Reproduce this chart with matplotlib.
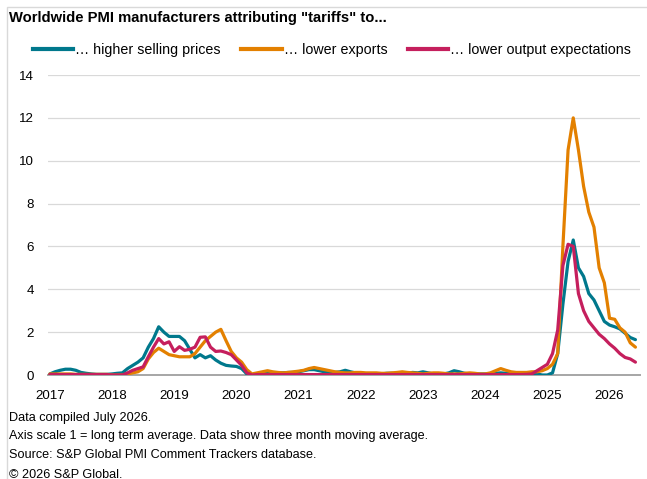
import matplotlib
matplotlib.use("Agg")
import matplotlib.pyplot as plt
import numpy as np
from matplotlib.lines import Line2D
from matplotlib.patches import Rectangle

plt.rcParams['font.family'] = ['Liberation Sans', 'DejaVu Sans']

years = ["2017", "2018", "2019", "2020", "2021", "2022", "2023", "2024", "2025", "2026"]
start_year = 2017

# Monthly values, Jan 2017 - Jun 2026 (three month moving average)
higher_selling_prices = (
    [0.05, 0.15, 0.22, 0.27, 0.27, 0.22, 0.12, 0.08, 0.05, 0.03, 0.03, 0.03] +
    [0.05, 0.08, 0.10, 0.30, 0.45, 0.60, 0.80, 1.30, 1.70, 2.25, 2.00, 1.80] +
    [1.80, 1.80, 1.60, 1.20, 0.80, 0.95, 0.80, 0.90, 0.70, 0.55, 0.45, 0.42] +
    [0.40, 0.30, 0.05, 0.00, 0.02, 0.05, 0.08, 0.10, 0.10, 0.10, 0.12, 0.12] +
    [0.15, 0.20, 0.25, 0.25, 0.20, 0.15, 0.12, 0.12, 0.15, 0.22, 0.15, 0.10] +
    [0.08, 0.05, 0.05, 0.05, 0.05, 0.08, 0.08, 0.05, 0.05, 0.08, 0.12, 0.10] +
    [0.15, 0.10, 0.05, 0.05, 0.05, 0.10, 0.20, 0.15, 0.08, 0.05, 0.05, 0.05] +
    [0.05, 0.05, 0.08, 0.10, 0.08, 0.05, 0.05, 0.05, 0.05, 0.05, 0.05, 0.00] +
    [0.00, 0.10, 1.00, 3.30, 5.30, 6.30, 5.00, 4.60, 3.80, 3.50, 3.00, 2.50] +
    [2.33, 2.25, 2.15, 1.95, 1.75, 1.65]
)

lower_exports = (
    [0.05, 0.05, 0.05, 0.05, 0.05, 0.03, 0.03, 0.03, 0.03, 0.03, 0.03, 0.03] +
    [0.00, 0.00, 0.00, 0.05, 0.10, 0.15, 0.30, 0.75, 1.05, 1.25, 1.10, 0.95] +
    [0.90, 0.85, 0.85, 0.85, 1.00, 1.30, 1.60, 1.80, 2.00, 2.13, 1.60, 1.10] +
    [0.80, 0.60, 0.25, 0.05, 0.10, 0.15, 0.20, 0.15, 0.12, 0.10, 0.12, 0.15] +
    [0.18, 0.22, 0.30, 0.35, 0.30, 0.25, 0.20, 0.15, 0.12, 0.10, 0.10, 0.12] +
    [0.12, 0.10, 0.10, 0.10, 0.08, 0.08, 0.10, 0.12, 0.15, 0.12, 0.10, 0.08] +
    [0.05, 0.08, 0.10, 0.10, 0.08, 0.05, 0.05, 0.05, 0.08, 0.10, 0.08, 0.05] +
    [0.05, 0.10, 0.20, 0.30, 0.22, 0.15, 0.12, 0.12, 0.12, 0.15, 0.15, 0.20] +
    [0.30, 0.50, 1.00, 6.00, 10.50, 12.00, 10.50, 8.80, 7.60, 6.90, 5.00, 4.30] +
    [2.65, 2.60, 2.20, 2.00, 1.50, 1.30]
)

lower_output_expectations = (
    [0.02] * 12 +
    [0.00, 0.00, 0.00, 0.10, 0.22, 0.30, 0.38, 0.85, 1.30, 1.70, 1.45, 1.55] +
    [1.10, 1.32, 1.15, 1.20, 1.30, 1.76, 1.78, 1.30, 1.10, 1.12, 1.05, 0.95] +
    [0.70, 0.45, 0.10, 0.00, 0.02, 0.02, 0.02, 0.02, 0.02, 0.02, 0.02, 0.02] +
    [0.02] * 12 +
    [0.02] * 12 +
    [0.02] * 12 +
    [0.02, 0.02, 0.02, 0.02, 0.02, 0.02, 0.02, 0.02, 0.03, 0.05, 0.20, 0.35] +
    [0.50, 1.00, 2.10, 5.10, 6.10, 6.00, 3.80, 3.00, 2.50, 2.20, 1.90, 1.70] +
    [1.45, 1.25, 1.00, 0.82, 0.75, 0.60]
)

series = [
    ("… higher selling prices", higher_selling_prices, "#00788C"),
    ("… lower exports", lower_exports, "#E38000"),
    ("… lower output expectations", lower_output_expectations, "#C51F5D"),
]

fig = plt.figure(figsize=(6.47, 4.79), dpi=100)
ax = fig.add_axes([48 / 647, 1 - 375 / 479, (640 - 48) / 647, (375 - 75) / 479])

for label, vals, color in series:
    t = start_year + np.arange(len(vals)) / 12.0
    ax.plot(t, vals, color=color, lw=2.3, label=label, solid_capstyle='round',
            solid_joinstyle='round', zorder=3)

ax.set_ylim(0, 14)
ax.set_xlim(2016.97, 2026.49)
ax.set_yticks(np.arange(0, 15, 2))
ax.set_xticks([int(y) for y in years])
ax.set_xticklabels(years)
ax.tick_params(axis='both', length=0, labelsize=9.6, colors='#000000')
ax.tick_params(axis='y', pad=10)
ax.tick_params(axis='x', pad=11)
ax.yaxis.grid(True, color='#D9D9D9', lw=0.9)
ax.set_axisbelow(True)
for s in ['top', 'right', 'left']:
    ax.spines[s].set_visible(False)
ax.spines['bottom'].set_color('#A6A6A6')
ax.spines['bottom'].set_linewidth(1.4)
ax.spines['bottom'].set_zorder(2)

handles = [Line2D([0], [0], color=c, lw=3) for _, _, c in series]
labels = [l for l, _, _ in series]
fig.legend(handles, labels, loc='center left', bbox_to_anchor=(33 / 647, 1 - 50 / 479),
           ncol=3, frameon=False, fontsize=10.3, handlelength=2.8, handletextpad=0.15,
           columnspacing=1.45, borderaxespad=0, borderpad=0)

fig.text(9 / 647, 1 - 18 / 479, 'Worldwide PMI manufacturers attributing "tariffs" to...',
         fontsize=10.6, fontweight='bold', ha='left', va='center')

notes = [
    "Data compiled July 2026.",
    "Axis scale 1 = long term average. Data show three month moving average.",
    "Source: S&P Global PMI Comment Trackers database.",
    "© 2026 S&P Global.",
]
for i, n in enumerate(notes):
    fig.text(9 / 647, 1 - (417.5 + i * 19) / 479, n, fontsize=9.1, ha='left', va='center')

fig.patches.append(Rectangle((7 / 647, -0.1), 1.2, 1 - 7 / 479 + 0.1, transform=fig.transFigure,
                             fill=False, edgecolor='#D9D9D9', lw=1.0))

fig.savefig("out.png", dpi=100)
